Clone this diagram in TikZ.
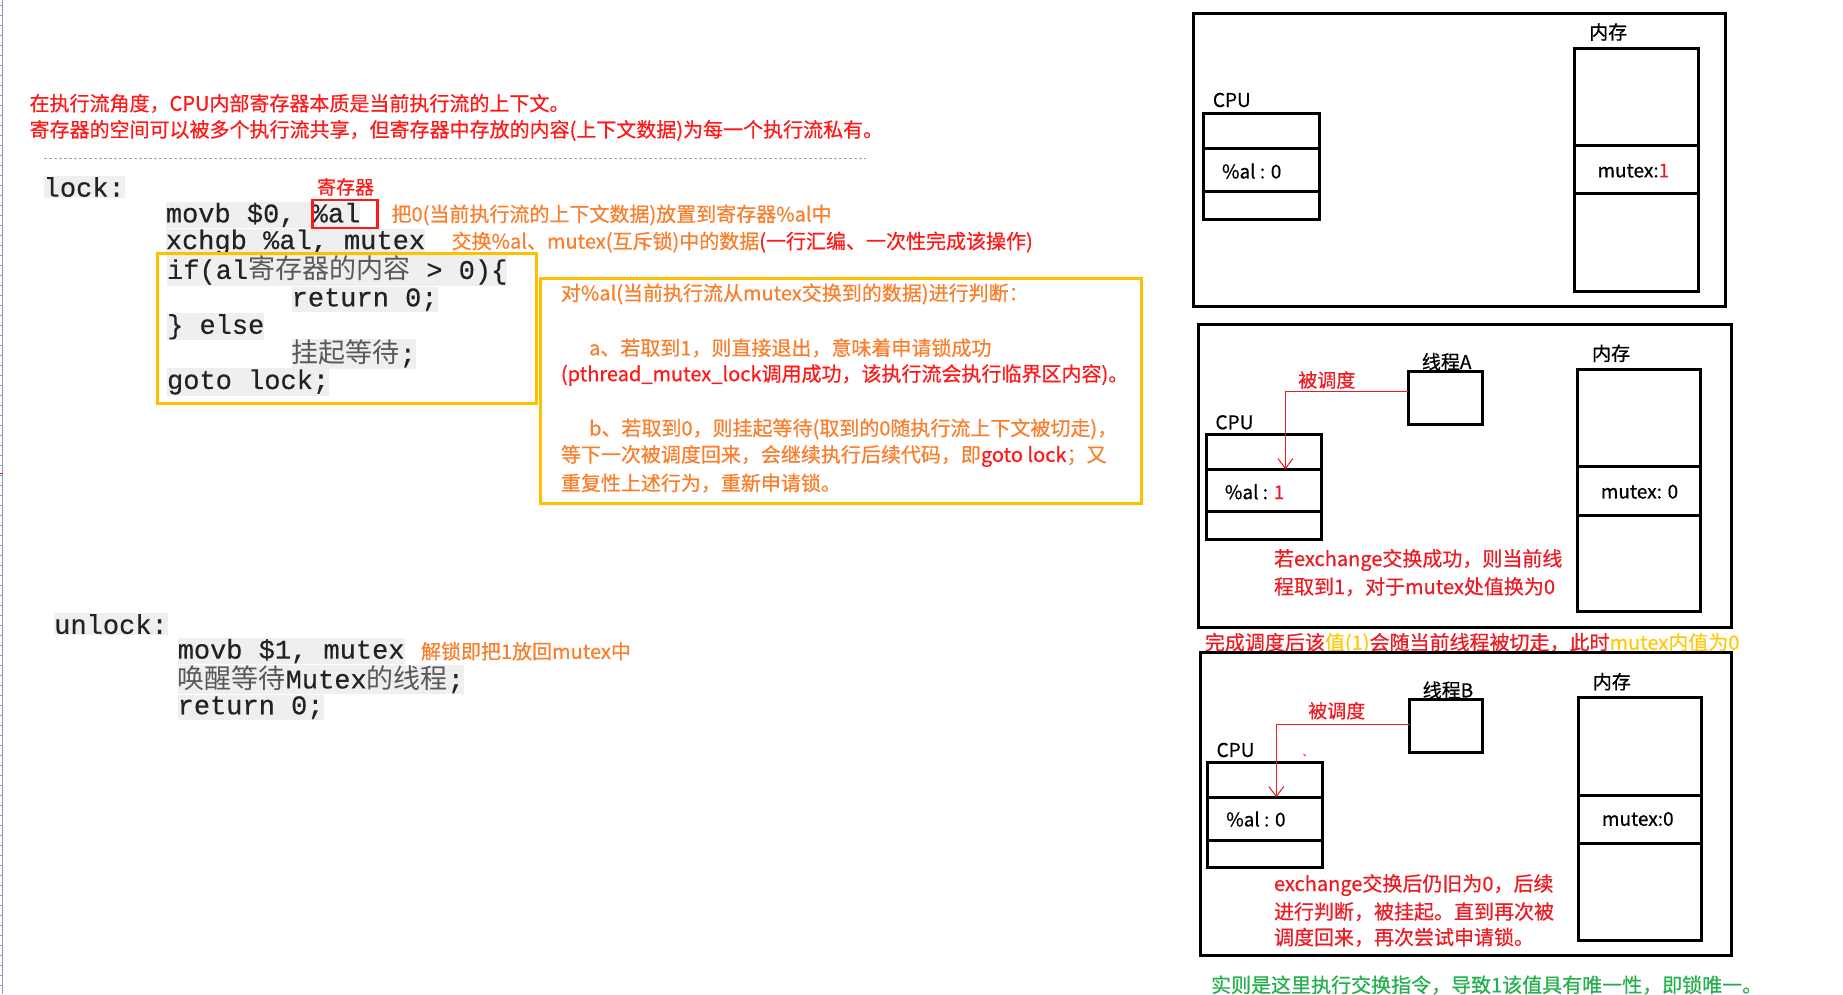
\documentclass[tikz,border=0pt]{standalone}
\usepackage{fontspec}
\setmainfont{Noto Sans CJK SC}
\newfontfamily\cjk{Noto Sans CJK SC}[FakeBold=0.6]
\newfontfamily\cjkcode{Noto Sans CJK SC}
\newfontfamily\mono{Liberation Mono}[FakeBold=0.4]
\usetikzlibrary{arrows.meta,fit}
\definecolor{hred}{HTML}{FF1A1A}
\definecolor{orng}{HTML}{FA7F2D}
\definecolor{ylw}{HTML}{FFC000}
\definecolor{pred}{HTML}{ED1C24}
\definecolor{gold}{HTML}{FFC90E}
\definecolor{grn}{HTML}{22B14C}
\definecolor{codegray}{HTML}{222222}
\definecolor{codebg}{HTML}{EFEFEF}
\definecolor{ruler}{HTML}{8A9BBF}
\newcommand{\cz}[1]{{\cjkcode\color{black!65}#1}}
\begin{document}
\begin{tikzpicture}[x=1pt,y=-1pt,
  txt/.style={inner sep=0pt, anchor=west, font=\cjk\fontsize{20}{24}\selectfont},
  code/.style={inner xsep=0pt, inner ysep=1pt, anchor=west, fill=codebg, text=codegray, font=\mono\fontsize{27}{30}\selectfont},
  frame/.style={draw, line width=3pt, inner sep=0pt, outer sep=0pt},
  ybox/.style={draw=ylw, line width=3pt, inner sep=0pt},
  lbl/.style={inner sep=0pt, anchor=west, font=\cjk\fontsize{19}{22}\selectfont},
  sched/.style={draw=pred, line width=1pt, -{Straight Barb[length=10pt,width=15pt]}},
]
\useasboundingbox (0,0) rectangle (1843,994);
\fill[white] (0,0) rectangle (1843,994);
% left ruler
\draw[ruler, line width=1pt] (2.5,0) -- (2.5,994);
\foreach \i in {5,15,...,995} \draw[ruler, line width=0.6pt] (0,\i) -- (2.5,\i);
\draw[red, line width=0.8pt] (0,473) -- (3,473);

% header
\node[txt, text=hred] (h1) at (29.4,103.4) {在执行流角度，CPU内部寄存器本质是当前执行流的上下文。};
\node[txt, text=hred] (h2) at (29.4,130.5) {寄存器的空间可以被多个执行流共享，但寄存器中存放的内容(上下文数据)为每一个执行流私有。};
\draw[gray!70, dash pattern=on 3pt off 2pt, line width=0.8pt] (43.5,158.7) -- (866.3,158.7);

% lock code
\node[code] (l1) at (43.5,187) {lock:};
\node[code] (l2) at (165.7,215) {movb \$0, \%al};
\node[draw=hred, line width=2.5pt, minimum width=64.6pt, minimum height=28.2pt, inner sep=0pt] (alb) at (345,213.9) {};
\node[txt, text=hred, anchor=center, font=\cjk\fontsize{19}{22}\selectfont] (reg) at (345.6,186.9) {寄存器};
\node[txt, text=orng] (c1) at (391.4,215) {把0(当前执行流的上下文数据)放置到寄存器\%al中};
\node[code] (l3) at (165.7,242.1) {xchgb \%al, mutex};
\node[txt] (c2) at (451.4,242.1) {\textcolor{orng}{交换\%al、mutex(互斥锁)中的数据}\textcolor{hred}{(一行汇编、一次性完成该操作)}};

\node[ybox, minimum width=378.5pt, minimum height=149.3pt] (yb1) at (346.75,328.55) {};
\node[code] (l4) at (166.9,270.3) {if(al\cz{寄存器的内容} > 0)\{};
\node[code] (l5) at (291.5,299.7) {return 0;};
\node[code] (l6) at (166.9,326.8) {\} else};
\node[code] (l7) at (291.5,353.8) {\cz{挂起等待};};
\node[code] (l8) at (166.9,382) {goto lock;};

\node[ybox, minimum width=600.6pt, minimum height=224.4pt] (yb2) at (841,390.8) {};
\node[txt, text=orng] (j0) at (560.7,293.9) {对\%al(当前执行流从mutex交换到的数据)进行判断：};
\node[txt, text=orng] (ja) at (588.9,347.9) {a、若取到1，则直接退出，意味着申请锁成功};
\node[txt, text=hred] (ja2) at (560.7,375) {(pthread\_mutex\_lock调用成功，该执行流会执行临界区内容)。};
\node[txt, text=orng] (jb) at (588.9,429) {b、若取到0，则挂起等待(取到的0随执行流上下文被切走)，};
\node[txt] (jb2) at (560.7,456) {\textcolor{orng}{等下一次被调度回来，会继续执行后续代码，即}\textcolor{hred}{goto lock}\textcolor{orng}{；又}};
\node[txt, text=orng] (jb3) at (560.7,483.1) {重复性上述行为，重新申请锁。};

% unlock code
\node[code] (u1) at (54.1,624.1) {unlock:};
\node[code] (u2) at (177.5,651.2) {movb \$1, mutex};
\node[txt, text=orng] (u2c) at (420.8,651.2) {解锁即把1放回mutex中};
\node[code] (u3) at (177.5,679.4) {\cz{唤醒等待}Mutex\cz{的线程};};
\node[code] (u4) at (177.5,707.6) {return 0;};

% ---------- panel 1 ----------
\node[frame, fit={(1193.8,13.3) (1725.3,306)}] (P1) {};
\node[frame, fit={(1203,113.3) (1319,148.3)}] (c1a) {};
\node[frame, fit={(1203,148.3) (1319,191.7)}] (c1b) {};
\node[frame, fit={(1203,191.7) (1319,219)}] (c1c) {};
\node[frame, fit={(1574,48.3) (1698,145.7)}] (m1a) {};
\node[frame, fit={(1574,145.7) (1698,193.3)}] (m1b) {};
\node[frame, fit={(1574,193.3) (1698,291.7)}] (m1c) {};
\node[lbl] (cpu1) at (1212.7,100) {CPU};
\node[lbl] (mem1) at (1589,32) {内存};
\node[lbl] (al1) at (1221.8,171) {\%al : 0};
\node[lbl] (mx1) at (1597.3,170.7) {mutex:\textcolor{pred}{1}};

% ---------- panel 2 ----------
\node[frame, fit={(1198.9,324.3) (1731.4,627.7)}] (P2) {};
\node[frame, fit={(1206.2,434.3) (1321,469.3)}] (c2a) {};
\node[frame, fit={(1206.2,469.3) (1321,511.7)}] (c2b) {};
\node[frame, fit={(1206.2,511.7) (1321,539)}] (c2c) {};
\node[frame, fit={(1577.3,369) (1700.5,466.7)}] (m2a) {};
\node[frame, fit={(1577.3,466.7) (1700.5,515)}] (m2b) {};
\node[frame, fit={(1577.3,515) (1700.5,611.7)}] (m2c) {};
\node[frame, fit={(1408.3,371) (1482.4,424.3)}] (thA) {};
\node[lbl] (thAl) at (1421.7,361.7) {线程A};
\node[lbl, text=pred] (schA) at (1298.1,380) {被调度};
\node[lbl] (cpu2) at (1215.3,422.3) {CPU};
\node[lbl] (mem2) at (1591.9,353.3) {内存};
\node[lbl] (al2) at (1224.7,491.7) {\%al : \textcolor{pred}{1}};
\node[lbl] (mx2) at (1600.6,491.7) {mutex: 0};
\coordinate (sAy) at (0,391.7);
\coordinate (eA) at (1285.4,469.3);
\draw[sched] (thA.west |- sAy) -| (eA);
\node[txt, text=pred] (r2a) at (1273.8,560) {若exchange交换成功，则当前线};
\node[txt, text=pred] (r2b) at (1273.8,586.7) {程取到1，对于mutex处值换为0};
\node[txt, text=pred] (cap) at (1204.7,643.3) {完成调度后该\textcolor{gold}{值(1)}会随当前线程被切走，此时\textcolor{gold}{mutex内值为0}};

% ---------- panel 3 ----------
\node[frame, fit={(1200,652.3) (1731.8,955)}] (P3) {};
\node[frame, fit={(1207.3,762.3) (1322.5,797.3)}] (c3a) {};
\node[frame, fit={(1207.3,797.3) (1322.5,840.7)}] (c3b) {};
\node[frame, fit={(1207.3,840.7) (1322.5,867.3)}] (c3c) {};
\node[frame, fit={(1578,697.3) (1701.6,795)}] (m3a) {};
\node[frame, fit={(1578,795) (1701.6,843.3)}] (m3b) {};
\node[frame, fit={(1578,843.3) (1701.6,940.7)}] (m3c) {};
\node[frame, fit={(1409.7,699) (1482.8,752.7)}] (thB) {};
\node[lbl] (thBl) at (1422.5,690) {线程B};
\node[lbl, text=pred] (schB) at (1308,710.7) {被调度};
\node[lbl] (cpu3) at (1216.4,750) {CPU};
\node[lbl] (mem3) at (1592.6,681.7) {内存};
\node[lbl] (al3) at (1226,819) {\%al : 0};
\node[lbl] (mx3) at (1601.7,819) {mutex:0};
\coordinate (sBy) at (0,724.3);
\coordinate (eB) at (1276.3,797.3);
\draw[sched] (thB.west |- sBy) -| (eB);
\draw[pred, line width=0.8pt] (1303.5,754) -- (1305.5,756);
\node[txt, text=pred] (r3a) at (1273.8,885) {exchange交换后仍旧为0，后续};
\node[txt, text=pred] (r3b) at (1273.8,911.7) {进行判断，被挂起。直到再次被};
\node[txt, text=pred] (r3c) at (1273.8,937.3) {调度回来，再次尝试申请锁。};
\node[txt, text=grn] (g) at (1210.9,985) {实则是这里执行交换指令，导致1该值具有唯一性，即锁唯一。};
\end{tikzpicture}
\end{document}
